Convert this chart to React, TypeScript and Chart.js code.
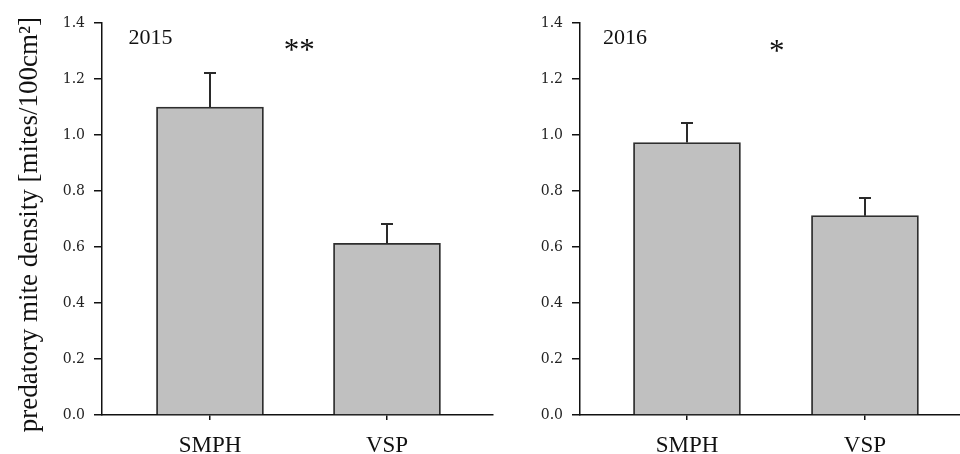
import React, { useEffect, useRef } from "react";
import { Chart, registerables } from "chart.js";

Chart.register(...registerables);

const categories = ["SMPH", "VSP"];
const means2015 = [1.1, 0.613];
const errors2015 = [0.122, 0.069];
const means2016 = [0.973, 0.712];
const errors2016 = [0.07, 0.062];
const yTicks = [0, 0.2, 0.4, 0.6, 0.8, 1.0, 1.2, 1.4];
const yTitle = "predatory mite density [mites/100cm²]";

const SERIF = "'Liberation Serif', 'Times New Roman', serif";
const TICKFONT = "'DejaVu Serif', serif";

const errorBarPlugin = {
  id: "errbars",
  afterDatasetsDraw(chart: any, _args: any, opts: any) {
    const { ctx, scales } = chart;
    const ds = chart.data.datasets[0];
    const errs: number[] = opts.errors || [];
    ctx.save();
    ctx.strokeStyle = "#2a2a2a";
    ctx.lineWidth = 2;
    ds.data.forEach((pt: any, i: number) => {
      const x = Math.round(scales.x.getPixelForValue(pt.x));
      const yb = scales.y.getPixelForValue(pt.y);
      const yt = Math.round(scales.y.getPixelForValue(pt.y + errs[i]));
      ctx.beginPath();
      ctx.moveTo(x, yb);
      ctx.lineTo(x, yt);
      ctx.moveTo(x - 6, yt);
      ctx.lineTo(x + 6, yt);
      ctx.stroke();
    });
    ctx.restore();
  },
};

const annotPlugin = {
  id: "annot",
  afterDraw(chart: any, _args: any, opts: any) {
    const { ctx, scales } = chart;
    ctx.save();
    ctx.fillStyle = "#111";
    (opts.items || []).forEach((it: any) => {
      ctx.font = it.font;
      ctx.textAlign = "left";
      ctx.textBaseline = "alphabetic";
      const m = ctx.measureText(it.text);
      const w = m.actualBoundingBoxRight + m.actualBoundingBoxLeft;
      const h = m.actualBoundingBoxAscent + m.actualBoundingBoxDescent;
      const cx = scales.x.getPixelForValue(it.x);
      const cy = scales.y.getPixelForValue(it.y);
      ctx.fillText(
        it.text,
        cx - w / 2 + m.actualBoundingBoxLeft,
        cy + h / 2 - m.actualBoundingBoxDescent
      );
    });
    if (opts.title) {
      const t = opts.title;
      ctx.font = t.font;
      ctx.textAlign = "center";
      ctx.textBaseline = "middle";
      ctx.translate(t.px, scales.y.getPixelForValue(t.y));
      ctx.rotate(-Math.PI / 2);
      ctx.fillText(t.text, 0, 0);
    }
    ctx.restore();
  },
};

function makeConfig(
  means: number[],
  errors: number[],
  xMin: number,
  xMax: number,
  yWidth: number,
  padRight: number,
  title: any,
  items: any[]
): any {
  return {
    type: "bar",
    data: {
      datasets: [
        {
          data: means.map((v, i) => ({ x: i + 1, y: v })),
          backgroundColor: "#c0c0c0",
          borderColor: "#2e2e2e",
          borderWidth: 1.8,
          barThickness: 107,
        },
      ],
    },
    options: {
      responsive: false,
      animation: false,
      layout: { padding: { left: 0, top: 23, right: padRight, bottom: 0 } },
      plugins: {
        legend: { display: false },
        tooltip: { enabled: false },
        errbars: { errors },
        annot: { items, title },
      },
      scales: {
        x: {
          type: "linear",
          min: xMin,
          max: xMax,
          offset: false,
          afterBuildTicks: (axis: any) => {
            axis.ticks = categories.map((_, i) => ({ value: i + 1 }));
          },
          afterFit: (axis: any) => {
            axis.height = 39;
          },
          ticks: {
            callback: (v: any) => categories[Math.round(v) - 1] ?? "",
            font: { family: SERIF, size: 23 },
            color: "#111",
            padding: 12,
            maxRotation: 0,
            autoSkip: false,
          },
          grid: {
            display: true,
            offset: false,
            drawOnChartArea: false,
            drawTicks: true,
            tickLength: 5,
            color: "#111",
            lineWidth: 1.5,
          },
          border: { display: true, color: "#111", width: 1.5 },
        },
        y: {
          min: 0,
          max: 1.4,
          afterBuildTicks: (axis: any) => {
            axis.ticks = yTicks.map((v) => ({ value: v }));
          },
          afterFit: (axis: any) => {
            axis.width = yWidth;
          },
          ticks: {
            callback: (v: any) => Number(v).toFixed(1),
            font: { family: TICKFONT, size: 14 },
            color: "#222",
            padding: 9,
          },
          grid: {
            display: true,
            drawOnChartArea: false,
            drawTicks: true,
            tickLength: 8,
            color: "#111",
            lineWidth: 1.5,
          },
          border: { display: true, color: "#111", width: 1.5 },
        },
      },
    },
    plugins: [errorBarPlugin, annotPlugin],
  };
}

function Panel(props: { left: number; width: number; config: any }) {
  const ref = useRef<HTMLCanvasElement | null>(null);
  useEffect(() => {
    if (!ref.current) return;
    const chart = new Chart(ref.current, props.config);
    return () => chart.destroy();
  }, []);
  return (
    <canvas
      ref={ref}
      width={props.width}
      height={454}
      style={{
        position: "absolute",
        left: props.left,
        top: 0,
        width: props.width,
        height: 454,
      }}
    />
  );
}

export default function App() {
  const cfgLeft = makeConfig(
    means2015,
    errors2015,
    0.39,
    2.599,
    102,
    2,
    { text: yTitle, px: 30, y: 0.68, font: `27px ${SERIF}` },
    [
      { text: "2015", x: 0.664, y: 1.349, font: `22px ${SERIF}` },
      { text: "**", x: 1.506, y: 1.32, font: `31px ${SERIF}` },
    ]
  );
  const cfgRight = makeConfig(means2016, errors2016, 0.399, 2.534, 85, 0, null, [
    { text: "2016", x: 0.652, y: 1.349, font: `22px ${SERIF}` },
    { text: "*", x: 1.506, y: 1.317, font: `31px ${SERIF}` },
  ]);
  return (
    <div
      style={{
        position: "fixed",
        left: 0,
        top: 0,
        width: 960,
        height: 454,
        background: "#fff",
        overflow: "hidden",
      }}
    >
      <Panel left={0} width={495} config={cfgLeft} />
      <Panel left={495} width={465} config={cfgRight} />
    </div>
  );
}
